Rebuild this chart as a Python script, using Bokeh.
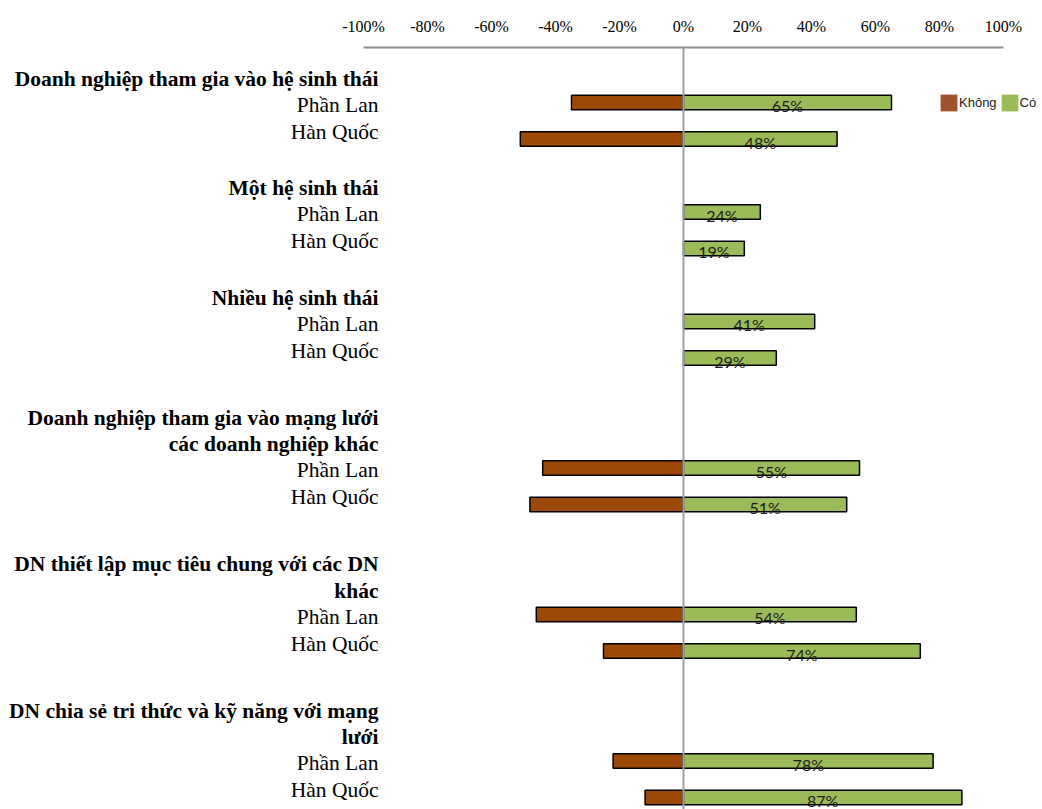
from bokeh.plotting import figure
from bokeh.models import Range1d, FixedTicker, Span, Legend, LegendItem, ColumnDataSource
from bokeh.core.properties import value
from bokeh.embed import file_html
from bokeh.resources import INLINE

# ---------------- data ----------------
groups = [
    "Doanh nghiệp tham gia vào hệ sinh thái",
    "Một hệ sinh thái",
    "Nhiều hệ sinh thái",
    "Doanh nghiệp tham gia vào mạng lưới\ncác doanh nghiệp khác",
    "DN thiết lập mục tiêu chung với các DN\nkhác",
    "DN chia sẻ tri thức và kỹ năng với mạng\nlưới",
]
countries = ["Phần Lan", "Hàn Quốc"]
series_names = ["Không", "Có"]
co_phan_lan = [65, 24, 41, 55, 54, 78]
co_han_quoc = [48, 19, 29, 51, 74, 87]
khong_phan_lan = [35, 0, 0, 44, 46, 22]
khong_han_quoc = [51, 0, 0, 48, 25, 12]
tick_values = [-100, -80, -60, -40, -20, 0, 20, 40, 60, 80, 100]
tick_labels = ["-100%", "-80%", "-60%", "-40%", "-20%", "0%", "20%", "40%", "60%", "80%", "100%"]

# ---------------- layout / style ----------------
W, H = 1042, 809
ZERO_PX = 683
PX_PER_PCT = 3.2
FRAME_TOP = 47
LABEL_RIGHT_PX = 378
FIRST_BAR = 102
BAR_STEP = 36.5
GROUP_GAP = 73
EXTRA_LINE_GAP = 37
LINE_H = 26.5
BAR_H = 14.5

BROWN = "#9C4908"
GREEN = "#9BBB59"
LEGEND_BROWN = "#A0522D"
SERIF = "Liberation Serif"

label_x = (LABEL_RIGHT_PX - ZERO_PX) / PX_PER_PCT

bar_y, bar_co, bar_khong = [], [], []
head_txt, head_y = [], []
cty_txt, cty_y = [], []
co_series = list(zip(co_phan_lan, co_han_quoc))
khong_series = list(zip(khong_phan_lan, khong_han_quoc))
prev_y2 = None
for gi, g in enumerate(groups):
    lines = g.split("\n")
    n = len(lines)
    y1 = FIRST_BAR if prev_y2 is None else prev_y2 + GROUP_GAP + EXTRA_LINE_GAP * (n - 1)
    y2 = y1 + BAR_STEP
    prev_y2 = y2
    for li, line in enumerate(lines):
        head_txt.append(line)
        head_y.append(y1 - 24 - LINE_H * (n - 1 - li))
    for ci, c in enumerate(countries):
        cty_txt.append(c)
        cty_y.append(y1 + 2 + 27 * ci)
        bar_y.append(y1 if ci == 0 else y2)
        bar_co.append(co_series[gi][ci])
        bar_khong.append(khong_series[gi][ci])

co_src = ColumnDataSource(dict(
    y=bar_y, right=bar_co,
    lx=[v / 2 for v in bar_co], ly=[y + 3 for y in bar_y],
    txt=[f"{v}%" for v in bar_co]))
kh_idx = [i for i, v in enumerate(bar_khong) if v > 0]
kh_src = ColumnDataSource(dict(
    y=[bar_y[i] for i in kh_idx], left=[-bar_khong[i] for i in kh_idx]))
head_src = ColumnDataSource(dict(x=[label_x] * len(head_txt), y=head_y, txt=head_txt))
cty_src = ColumnDataSource(dict(x=[label_x] * len(cty_txt), y=cty_y, txt=cty_txt))

p = figure(width=W, height=H, output_backend="svg", toolbar_location=None,
           x_axis_location="above", y_axis_location=None,
           x_range=Range1d(-ZERO_PX / PX_PER_PCT, (W - ZERO_PX) / PX_PER_PCT),
           y_range=Range1d(H, FRAME_TOP),
           min_border_left=0, min_border_right=0, min_border_bottom=0,
           min_border_top=FRAME_TOP)
p.outline_line_color = None
p.xgrid.visible = False
p.ygrid.visible = False
p.background_fill_color = "white"
p.border_fill_color = "white"

ax = p.xaxis[0]
ax.ticker = FixedTicker(ticks=tick_values)
ax.major_label_overrides = {v: l for v, l in zip(tick_values, tick_labels)}
ax.bounds = (tick_values[0], tick_values[-1])
ax.major_tick_line_color = None
ax.major_tick_out = 0
ax.major_tick_in = 0
ax.minor_tick_line_color = None
ax.axis_line_color = "#8C8C8C"
ax.axis_line_width = 2
ax.major_label_text_font = SERIF
ax.major_label_text_font_size = "16px"
ax.major_label_text_color = "black"
ax.major_label_standoff = 13

p.add_layout(Span(location=0, dimension="height", line_color="#A0A0A0", line_width=2))

kh_r = p.hbar(y="y", left="left", right=0, height=BAR_H, source=kh_src,
              fill_color=BROWN, line_color="black", line_width=1.5)
co_r = p.hbar(y="y", left=0, right="right", height=BAR_H, source=co_src,
              fill_color=GREEN, line_color="black", line_width=1.5)
p.text(x="lx", y="ly", text="txt", source=co_src, text_align="center",
       text_baseline="middle", text_font=value("Lato"), text_font_size="16px",
       text_color="#1A1A1A")

p.text(x="x", y="y", text="txt", source=head_src, text_align="right",
       text_baseline="middle", text_font=value(SERIF), text_font_size="21.5px",
       text_font_style="bold", text_color="black")
p.text(x="x", y="y", text="txt", source=cty_src, text_align="right",
       text_baseline="middle", text_font=value(SERIF), text_font_size="21.5px",
       text_color="black")

# legend swatches: hidden twins of the bar renderers, drawn without outline
lg_k = p.hbar(y="y", left="left", right=0, height=BAR_H, source=kh_src,
              fill_color=LEGEND_BROWN, line_color=None, visible=False)
lg_c = p.hbar(y="y", left=0, right="right", height=BAR_H, source=co_src,
              fill_color=GREEN, line_color=None, visible=False)
legend = Legend(items=[LegendItem(label=series_names[0], renderers=[lg_k]),
                       LegendItem(label=series_names[1], renderers=[lg_c])],
                orientation="horizontal", location=(938, H - 113),
                glyph_width=21, glyph_height=21, label_height=21, label_width=0,
                label_standoff=0, spacing=2, padding=0, margin=0,
                border_line_color=None, background_fill_alpha=0,
                inactive_fill_alpha=0,
                label_text_font="Liberation Sans", label_text_font_size="13px",
                label_text_color="#222222")
p.add_layout(legend)

open("out.html", "w").write(file_html(p, INLINE))
